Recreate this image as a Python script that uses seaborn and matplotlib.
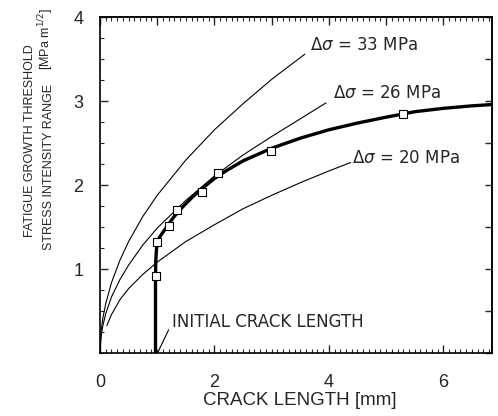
import numpy as np
import pandas as pd
import matplotlib
matplotlib.use("Agg")
import matplotlib.pyplot as plt
import seaborn as sns
from matplotlib.ticker import MultipleLocator, FixedLocator, NullFormatter

# ---- data ----
# thin curves: threshold for each stress range (x = crack length mm, y = dK)
x33 = [0.0, 0.02, 0.05, 0.1, 0.2, 0.35, 0.5, 0.75, 1.0, 1.5, 2.0, 2.5, 3.0, 3.58]
y33 = [0.0, 0.27, 0.42, 0.59, 0.84, 1.11, 1.33, 1.63, 1.88, 2.30, 2.66, 2.97, 3.26, 3.56]
x26 = [0.0, 0.02, 0.05, 0.1, 0.2, 0.35, 0.5, 0.75, 1.0, 1.5, 2.0, 2.5, 3.0, 3.5, 3.95]
y26 = [0.0, 0.21, 0.33, 0.47, 0.67, 0.88, 1.05, 1.29, 1.49, 1.82, 2.11, 2.36, 2.58, 2.79, 2.98]
x20 = [0.12, 0.2, 0.35, 0.5, 0.75, 1.0, 1.5, 2.0, 2.5, 3.0, 3.5, 4.0, 4.38]
y20 = [0.33, 0.46, 0.64, 0.77, 0.94, 1.085, 1.33, 1.53, 1.72, 1.88, 2.03, 2.17, 2.27]
# thick curve: threshold growth from initial crack length
xth = [0.97, 0.97, 0.97, 0.975, 0.985, 1.0, 1.05, 1.1, 1.2, 1.3, 1.4, 1.6, 1.8, 2.0,
       2.2, 2.5, 3.0, 3.5, 4.0, 4.5, 5.0, 5.5, 6.0, 6.5, 6.84]
yth = [0.0, 0.5, 0.9, 1.1, 1.22, 1.33, 1.39, 1.44, 1.54, 1.63, 1.71, 1.85, 1.97, 2.08,
       2.17, 2.29, 2.44, 2.56, 2.66, 2.74, 2.81, 2.875, 2.915, 2.945, 2.96]
# measured points (open squares)
xm = [0.98, 0.99, 1.21, 1.34, 1.79, 2.07, 2.99, 5.30]
ym = [0.92, 1.33, 1.52, 1.71, 1.92, 2.14, 2.41, 2.85]

labels = [r"$\Delta\sigma$ = 33 MPa", r"$\Delta\sigma$ = 26 MPa", r"$\Delta\sigma$ = 20 MPa"]
xticks = [0, 2, 4, 6]
yticks = [1, 2, 3, 4]

sns.set_style("ticks")
plt.rcParams["font.family"] = ["Liberation Sans", "DejaVu Sans"]
plt.rcParams["mathtext.fontset"] = "dejavusans"

fig = plt.figure(figsize=(4.98, 4.16), dpi=100)
ax = fig.add_axes([0.2008, 0.1507, 0.787, 0.808])

thin = pd.concat([
    pd.DataFrame({"x": x33, "y": y33, "s": "33"}),
    pd.DataFrame({"x": x26, "y": y26, "s": "26"}),
    pd.DataFrame({"x": x20, "y": y20, "s": "20"}),
])
sns.lineplot(data=thin, x="x", y="y", units="s", estimator=None, sort=False,
             color="black", lw=0.8, ax=ax, legend=False)
thick = pd.DataFrame({"x": xth, "y": yth})
sns.lineplot(data=thick, x="x", y="y", estimator=None, sort=False,
             color="black", lw=2.4, ax=ax, legend=False)
sns.scatterplot(x=xm, y=ym, marker="s", s=30, facecolor="white",
                edgecolor="black", linewidth=0.8, ax=ax, zorder=5, legend=False)

ax.set_xlim(0, 6.85)
ax.set_ylim(0, 4)
ax.set_xlabel("")
ax.set_ylabel("")
for sp in ax.spines.values():
    sp.set_linewidth(1.2)
    sp.set_color("black")

ax.xaxis.set_major_locator(FixedLocator(xticks))
ax.xaxis.set_minor_locator(MultipleLocator(0.1))
ax.yaxis.set_major_locator(FixedLocator(yticks))
ax.yaxis.set_minor_locator(MultipleLocator(0.25))
ax.tick_params(axis="x", which="major", direction="in", length=6, width=1.0,
               labelsize=13, pad=15)
ax.tick_params(axis="x", which="minor", direction="in", length=3, width=0.8)
ax.tick_params(axis="y", which="major", direction="in", length=6, width=1.0,
               labelsize=13, pad=12)
ax.tick_params(axis="y", which="minor", direction="in", length=3, width=0.8)

top = ax.secondary_xaxis("top")
top.xaxis.set_major_locator(MultipleLocator(1))
top.xaxis.set_minor_locator(MultipleLocator(0.1))
top.xaxis.set_major_formatter(NullFormatter())
top.tick_params(which="major", direction="in", length=6, width=1.0)
top.tick_params(which="minor", direction="in", length=3, width=0.8)
top.spines["top"].set_linewidth(1.2)

right = ax.secondary_yaxis("right")
right.yaxis.set_major_locator(MultipleLocator(0.5))
right.yaxis.set_major_formatter(NullFormatter())
right.tick_params(which="major", direction="in", length=5, width=1.0)
right.spines["right"].set_linewidth(1.2)

# curve labels
ax.text(3.67, 3.67, labels[0], fontsize=12, family="DejaVu Sans", ha="left", va="center")
ax.text(4.07, 3.10, labels[1], fontsize=12, family="DejaVu Sans", ha="left", va="center")
ax.text(4.41, 2.33, labels[2], fontsize=12, family="DejaVu Sans", ha="left", va="center")
ax.text(1.26, 0.37, "INITIAL CRACK LENGTH", fontsize=12, family="DejaVu Sans",
        ha="left", va="center")
ax.plot([1.2, 1.01], [0.28, 0.01], color="black", lw=0.8)

# axis titles
fig.text(0.602, 0.038, "CRACK LENGTH [mm]", fontsize=13.5, ha="center", va="center")
fig.text(0.061, 0.43, "FATIGUE GROWTH THRESHOLD", fontsize=9, rotation=90,
         ha="center", va="bottom")
fig.text(0.098, 0.40, "STRESS INTENSITY RANGE", fontsize=9,
         rotation=90, ha="center", va="bottom")
fig.text(0.093, 0.905, r"[MPa m$^{1/2}$]", fontsize=9,
         rotation=90, ha="center", va="center")

fig.savefig("out.png", dpi=100)
